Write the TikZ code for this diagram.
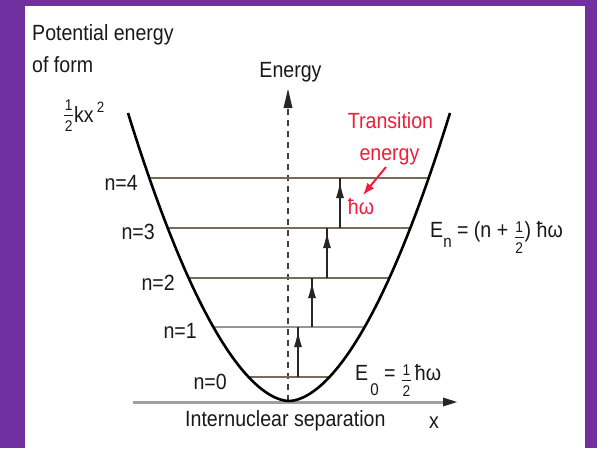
\documentclass[tikz,border=0pt]{standalone}
\usepackage{fontspec}
\setmainfont[FakeStretch=0.89]{Liberation Sans}
\usetikzlibrary{arrows.meta}
\definecolor{bgpurple}{RGB}{112,48,160}
\definecolor{levelcol}{RGB}{118,108,88}
\definecolor{levelcolb}{RGB}{150,150,150}
\definecolor{axiscol}{RGB}{160,160,160}
\definecolor{redtxt}{RGB}{240,30,60}
\definecolor{txtcol}{RGB}{25,25,25}
% stacked one-half: #1 = vertical shift
\newcommand\halffrac[1]{\kern1pt\raisebox{#1}{\makebox[9pt][c]{%
  \makebox[0pt]{\raisebox{11.5pt}{\fontsize{15.5}{15.5}\selectfont 1}}%
  \makebox[0pt]{\rule[6.3pt]{9pt}{0.9pt}}%
  \makebox[0pt]{\raisebox{-9.5pt}{\fontsize{15.5}{15.5}\selectfont 2}}}}\kern1pt}
\begin{document}
\begin{tikzpicture}[x=1pt,y=-1pt,
  lbl/.style={font=\fontsize{22}{26}\selectfont, text=txtcol, inner sep=0pt},
  redlbl/.style={lbl, text=redtxt},
  lvline/.style={draw=levelcol, line width=2.4pt},
  lvlineb/.style={draw=levelcolb, line width=2.4pt},
  curvestyle/.style={draw=black, line width=2.6pt},
  axisline/.style={draw=axiscol, line width=3pt},
  dashline/.style={draw=black!75, line width=1.5pt, dash pattern=on 6pt off 5pt},
  transline/.style={draw=black!85, line width=1.1pt},
  transtip/.style={draw=black!85, line width=1.1pt, -{Latex[length=16pt,width=8pt]}, shorten >=4pt},
  redarrow/.style={draw=redtxt, line width=2pt, -{Latex[length=12pt,width=9pt]}}
]
\useasboundingbox (0,0) rectangle (597,448);
\fill[bgpurple] (0,0) rectangle (597,448);
\fill[white] (25,6) rectangle (585,448);

% x axis
\coordinate (ax0) at (133,402);
\coordinate (ax1) at (457,402);
\draw[axisline] (ax0) -- (443,402);
\draw[draw=none, fill=black!85] (ax1) -- (443,397.5) -- (443,406.5) -- cycle;

% energy axis (dashed)
\coordinate (ey0) at (288,401);
\coordinate (ey1) at (288,89);
\draw[dashline] (ey0) -- (288,106);
\draw[draw=none, fill=black!85] (ey1) -- (283.5,108) -- (292.5,108) -- cycle;

% levels
\foreach \n/\y/\h in {0/377/40.5, 2/278/100.4, 3/228/121.3, 4/178/139.7}{
  \coordinate (L\n) at ({289-\h},\y);
  \coordinate (R\n) at ({289+\h},\y);
  \draw[lvline] (L\n) -- (R\n);
}
\coordinate (L1) at (213.3,327);
\coordinate (R1) at (364.7,327);
\draw[lvlineb] (L1) -- (R1);

% potential curve
\draw[curvestyle] plot[domain=-161:161,samples=100] ({289+\x},{401-0.0307*abs(\x)^1.8});

% transition arrows
\foreach \i/\x/\ya/\yb in {0/298/377/327, 1/312/327/278, 2/327/278/228, 3/340/228/178}{
  \coordinate (ta\i) at (\x,\ya);
  \coordinate (tb\i) at (\x,\yb);
  \draw[transline] (ta\i) -- (tb\i);
  \draw[transtip] (ta\i) -- (tb\i);
}

% labels
\node[lbl, anchor=base west] (pe1) at (32,40) {Potential energy};
\node[lbl, anchor=base west] (pe2) at (32,72) {of form};
\node[lbl, anchor=base west] (kx) at (63,122) {\halffrac{0pt}kx\kern3pt\raisebox{10pt}{\fontsize{15}{15}\selectfont 2}};
\node[lbl, anchor=base] (energy) at (290.5,77) {Energy};

\node[lbl, anchor=base east] (n4) at (138,190) {n=4};
\node[lbl, anchor=base east] (n3) at (155,239) {n=3};
\node[lbl, anchor=base east] (n2) at (175,290) {n=2};
\node[lbl, anchor=base east] (n1) at (197,338) {n=1};
\node[lbl, anchor=base east] (n0) at (227,389) {n=0};

\node[redlbl, anchor=base] (tr1) at (390.5,128) {Transition};
\node[redlbl, anchor=base] (tr2) at (389.5,160) {energy};
\node[redlbl, anchor=base] (hw) at (361,214) {ħω};
\coordinate (ra) at (386,167);
\coordinate (rb) at (363,195);
\draw[redarrow] (ra) -- (rb);

\node[lbl, anchor=base west] (En) at (430,237) {E\raisebox{-10pt}{\fontsize{17}{17}\selectfont n} = (n + \halffrac{-7pt}) ħω};
\node[lbl, anchor=base west] (E0) at (355,380) {E\kern2pt\raisebox{-15pt}{\fontsize{17}{17}\selectfont 0} = \halffrac{-7pt}\kern3ptħω};

\node[lbl, anchor=base west] (sep) at (185,426) {Internuclear separation};
\node[lbl, anchor=base] (xlbl) at (434,428) {x};
\end{tikzpicture}
\end{document}
